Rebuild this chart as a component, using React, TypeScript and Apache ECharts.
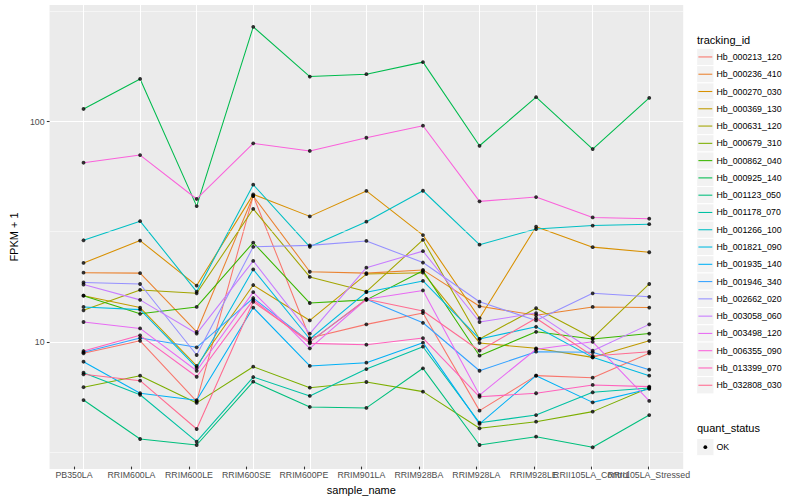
import React, { useEffect, useRef } from "react";
import * as echarts from "echarts";

const categories = [
  "PB350LA", "RRIM600LA", "RRIM600LE", "RRIM600SE", "RRIM600PE", "RRIM901LA",
  "RRIM928BA", "RRIM928LA", "RRIM928LE", "RRII105LA_Control", "RRII105LA_Stressed",
];

const trackingIds = [
  "Hb_000213_120", "Hb_000236_410", "Hb_000270_030", "Hb_000369_130", "Hb_000631_120",
  "Hb_000679_310", "Hb_000862_040", "Hb_000925_140", "Hb_001123_050", "Hb_001178_070",
  "Hb_001266_100", "Hb_001821_090", "Hb_001935_140", "Hb_001946_340", "Hb_002662_020",
  "Hb_003058_060", "Hb_003498_120", "Hb_006355_090", "Hb_013399_070", "Hb_032808_030",
];

const seriesColors = [
  "#F8766D", "#EA8331", "#D89000", "#C09B00", "#A3A500", "#7CAE00", "#39B600", "#00BB4E",
  "#00BF7D", "#00C1A3", "#00BFC4", "#00BAE0", "#00B0F6", "#35A2FF", "#9590FF", "#C77CFF",
  "#E76BF3", "#FA62DB", "#FF62BC", "#FF6C91",
];

// FPKM + 1 per sample, in category order
const hb000213_120 = [8.87, 10.1, 5.36, 46.0, 10.4, 12.0, 13.5, 4.87, 7.02, 6.87, 8.87];
const hb000236_410 = [20.6, 20.5, 11.1, 45.9, 20.8, 20.5, 21.2, 14.5, 13.2, 14.4, 14.3];
const hb000270_030 = [22.8, 28.8, 18.0, 46.7, 37.1, 48.4, 30.5, 12.8, 33.3, 26.9, 25.5];
const hb000369_130 = [16.2, 14.3, 7.77, 18.1, 12.5, 20.3, 20.6, 9.88, 9.34, 8.5, 10.1];
const hb000631_120 = [13.9, 17.2, 16.6, 40.1, 19.7, 16.9, 29.0, 10.3, 14.2, 10.4, 18.3];
const hb000679_310 = [6.22, 7.02, 5.28, 7.71, 6.19, 6.57, 5.94, 4.05, 4.34, 4.82, 6.19];
const hb000862_040 = [16.2, 13.4, 14.4, 28.2, 15.0, 15.5, 21.0, 8.65, 11.1, 10.3, 10.9];
const hb000925_140 = [114, 156, 41.3, 269, 160, 164, 186, 77.6, 129, 75.0, 128];
const hb001123_050 = [5.44, 3.62, 3.4, 6.59, 5.06, 5.01, 7.58, 3.4, 3.71, 3.32, 4.65];
const hb001178_070 = [7.24, 5.75, 3.52, 6.92, 5.68, 7.52, 9.5, 4.29, 4.65, 5.9, 6.17];
const hb001266_100 = [28.9, 35.3, 16.9, 51.7, 27.0, 35.1, 48.5, 27.6, 32.5, 33.7, 34.2];
const hb001821_090 = [14.4, 14.0, 7.63, 21.3, 10.3, 16.8, 18.9, 10.3, 11.7, 8.5, 7.02];
const hb001935_140 = [8.12, 5.84, 5.43, 14.3, 7.77, 8.04, 9.91, 4.24, 7.02, 5.31, 6.11];
const hb001946_340 = [8.96, 10.4, 9.44, 15.8, 10.0, 15.6, 12.2, 7.39, 9.02, 8.96, 7.47];
const hb002662_020 = [18.6, 18.3, 8.71, 27.0, 27.4, 28.7, 22.9, 15.2, 12.5, 16.6, 16.0];
const hb003058_060 = [18.2, 15.5, 10.9, 23.3, 10.9, 21.7, 25.8, 12.3, 13.5, 9.11, 12.0];
const hb003498_120 = [12.3, 11.5, 7.39, 16.8, 9.34, 15.6, 17.1, 5.73, 9.25, 10.0, 5.39];
const hb006355_090 = [65.0, 70.4, 44.5, 79.6, 73.5, 84.4, 95.7, 43.4, 45.4, 36.7, 36.2];
const hb013399_070 = [9.08, 10.7, 6.94, 15.5, 9.84, 9.7, 10.4, 5.63, 5.84, 6.37, 6.26];
const hb032808_030 = [7.12, 6.66, 4.02, 15.2, 10.0, 15.6, 13.8, 9.11, 12.8, 8.62, 9.02];

const seriesValues = [
  hb000213_120, hb000236_410, hb000270_030, hb000369_130, hb000631_120,
  hb000679_310, hb000862_040, hb000925_140, hb001123_050, hb001178_070,
  hb001266_100, hb001821_090, hb001935_140, hb001946_340, hb002662_020,
  hb003058_060, hb003498_120, hb006355_090, hb013399_070, hb032808_030,
];

const quantStatus = ["OK"];
const minorBreaks = [3.1623, 31.623, 316.23];
const yMin = 2.646;
const yMax = 338.0;

const FONT = '"Liberation Sans", Arial, Helvetica, sans-serif';

export default function App() {
  const ref = useRef<HTMLDivElement>(null);

  useEffect(() => {
    document.body.style.margin = "0";
    const chart = echarts.init(ref.current!, null, { renderer: "svg" });

    const lineSeries: any[] = trackingIds.map((id, k) => ({
      name: id,
      type: "line",
      xAxisIndex: 0,
      yAxisIndex: 0,
      data: seriesValues[k].map((v, i) => [i, v]),
      showSymbol: false,
      symbol: "none",
      silent: true,
      z: 3,
      lineStyle: { color: seriesColors[k], width: 1.07 },
      itemStyle: { color: seriesColors[k] },
    }));

    const points: number[][] = [];
    seriesValues.forEach((vals) => vals.forEach((v, i) => points.push([i, v])));

    const gridSeries = {
      name: "grid",
      type: "line",
      xAxisIndex: 0,
      yAxisIndex: 0,
      data: [],
      silent: true,
      z: 1,
      markLine: {
        silent: true,
        symbol: ["none", "none"],
        label: { show: false },
        emphasis: { disabled: true },
        data: [
          ...minorBreaks.map((v) => ({ yAxis: v, lineStyle: { color: "#FFFFFF", width: 0.53, type: "solid" } })),
          ...categories.map((_c, i) => ({ xAxis: i, lineStyle: { color: "#FFFFFF", width: 1.07, type: "solid" } })),
        ],
      },
    };

    const legendLeft = 696.7;
    const keySize = 17.28;
    const keyTop = 48.3;
    const graphics: any[] = [];
    graphics.push({
      type: "text", x: 697, y: 39.5, z: 10,
      style: { text: "tracking_id", fill: "#000", fontSize: 11, fontFamily: FONT, align: "left", verticalAlign: "middle", textAlign: "left", textVerticalAlign: "middle" },
    });
    trackingIds.forEach((id, k) => {
      const top = keyTop + keySize * k;
      const cy = top + keySize / 2;
      graphics.push({
        type: "rect", z: 10,
        shape: { x: legendLeft, y: top, width: keySize, height: keySize },
        style: { fill: "#F2F2F2", stroke: "#FFFFFF", lineWidth: 1 },
      });
      graphics.push({
        type: "line", z: 11,
        shape: { x1: legendLeft + 1.7, y1: cy, x2: legendLeft + keySize - 1.7, y2: cy },
        style: { stroke: seriesColors[k], lineWidth: 1.07 },
      });
      graphics.push({
        type: "text", x: 716.5, y: cy, z: 10,
        style: { text: id, fill: "#000", fontSize: 8.8, fontFamily: FONT, align: "left", verticalAlign: "middle", textAlign: "left", textVerticalAlign: "middle" },
      });
    });
    graphics.push({
      type: "text", x: 697, y: 427.5, z: 10,
      style: { text: "quant_status", fill: "#000", fontSize: 11, fontFamily: FONT, align: "left", verticalAlign: "middle", textAlign: "left", textVerticalAlign: "middle" },
    });
    quantStatus.forEach((q, k) => {
      const top = 438.5 + keySize * k;
      const cy = top + keySize / 2;
      graphics.push({
        type: "rect", z: 10,
        shape: { x: legendLeft, y: top, width: keySize, height: keySize },
        style: { fill: "#F2F2F2", stroke: "#FFFFFF", lineWidth: 1 },
      });
      graphics.push({
        type: "circle", z: 11,
        shape: { cx: legendLeft + keySize / 2, cy, r: 1.9 },
        style: { fill: "#000" },
      });
      graphics.push({
        type: "text", x: 716.5, y: cy, z: 10,
        style: { text: q, fill: "#000", fontSize: 8.8, fontFamily: FONT, align: "left", verticalAlign: "middle", textAlign: "left", textVerticalAlign: "middle" },
      });
    });

    chart.setOption({
      animation: false,
      backgroundColor: "#FFFFFF",
      textStyle: { fontFamily: FONT },
      grid: [
        { left: 39.5, right: 116.8, top: 5, bottom: 31, show: true, backgroundColor: "#EBEBEB", borderWidth: 0, containLabel: false },
        { left: 45.26, right: 122.56, top: 5, bottom: 31, show: false, containLabel: false },
      ],
      xAxis: [
        {
          type: "value", gridIndex: 0, min: -0.6, max: 10.6, show: false,
          splitLine: { show: false }, axisLabel: { show: false }, axisTick: { show: false },
          axisLine: { show: false, onZero: false },
        },
        {
          type: "category", gridIndex: 1, data: categories, boundaryGap: true, z: 1,
          axisLine: { show: false, onZero: false },
          axisTick: { show: true, alignWithLabel: true, length: 2.75, lineStyle: { color: "#333333", width: 1.07 } },
          axisLabel: { interval: 0, color: "#4D4D4D", fontSize: 8.8, fontFamily: FONT, margin: 3.5, hideOverlap: false },
          splitLine: { show: false },
          name: "sample_name", nameLocation: "middle", nameGap: 13.5,
          nameTextStyle: { color: "#000", fontSize: 11, fontFamily: FONT },
        },
      ],
      yAxis: [
        {
          type: "log", logBase: 10, gridIndex: 0, min: yMin, max: yMax, z: 1,
          axisLine: { show: false, onZero: false },
          axisTick: { show: true, length: 2.75, lineStyle: { color: "#333333", width: 1.07 } },
          axisLabel: { color: "#4D4D4D", fontSize: 8.8, fontFamily: FONT, margin: 5, showMinLabel: false, showMaxLabel: false },
          splitLine: { show: true, showMinLine: false, showMaxLine: false, lineStyle: { color: "#FFFFFF", width: 1.07 } },
          minorTick: { show: false }, minorSplitLine: { show: false },
          name: "FPKM + 1", nameLocation: "middle", nameGap: 22, nameRotate: 90,
          nameTextStyle: { color: "#000", fontSize: 11, fontFamily: FONT },
        },
        { type: "value", gridIndex: 1, show: false, splitLine: { show: false }, axisLine: { onZero: false } },
      ],
      series: [
        gridSeries,
        ...lineSeries,
        {
          name: "OK", type: "scatter", xAxisIndex: 0, yAxisIndex: 0, data: points,
          symbol: "circle", symbolSize: 3.8, silent: true, z: 5,
          itemStyle: { color: "#000000" },
        },
      ],
      graphic: graphics,
    });

    return () => chart.dispose();
  }, []);

  return <div ref={ref} style={{ position: "fixed", left: 0, top: 0, width: 800, height: 500 }} />;
}
